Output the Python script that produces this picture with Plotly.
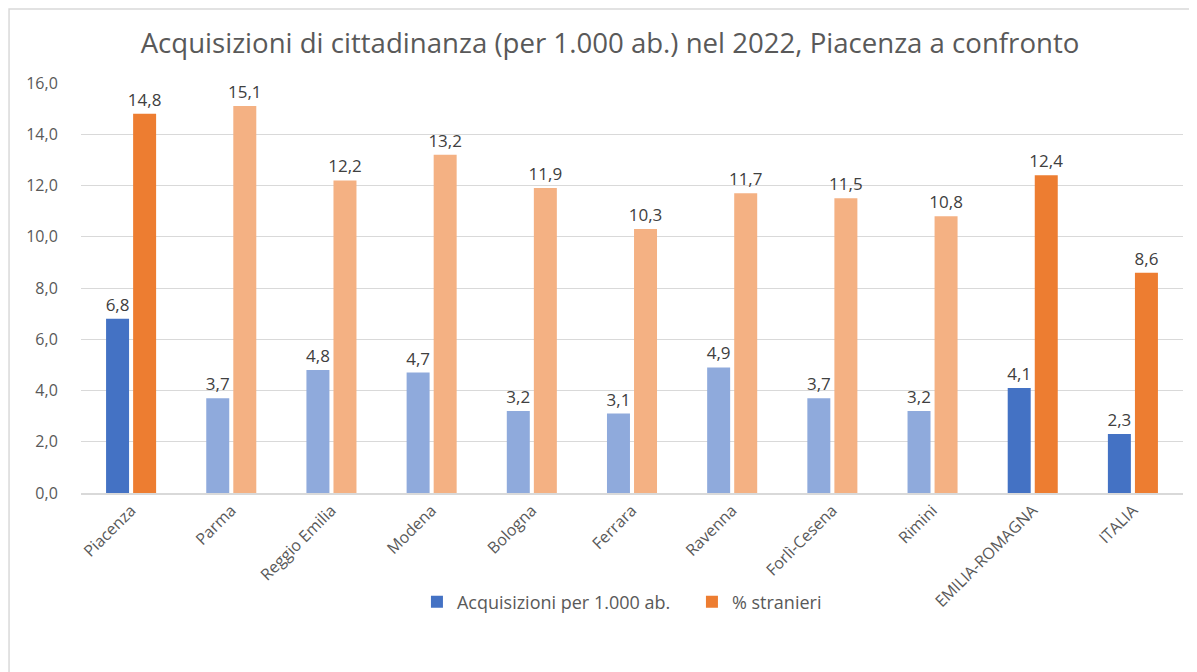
import plotly.graph_objects as go

categories = ["Piacenza", "Parma", "Reggio Emilia", "Modena", "Bologna", "Ferrara",
              "Ravenna", "Forlì-Cesena", "Rimini", "EMILIA-ROMAGNA", "ITALIA"]
acquisizioni = [6.8, 3.7, 4.8, 4.7, 3.2, 3.1, 4.9, 3.7, 3.2, 4.1, 2.3]
stranieri = [14.8, 15.1, 12.2, 13.2, 11.9, 10.3, 11.7, 11.5, 10.8, 12.4, 8.6]
highlight = [True, False, False, False, False, False, False, False, False, True, True]
y_ticks = [0, 2, 4, 6, 8, 10, 12, 14, 16]

blue_dark, blue_light = "#4472C4", "#8FAADC"
orange_dark, orange_light = "#ED7D31", "#F4B183"

FONT = "'Open Sans', sans-serif"
GREY = "#595959"

fig = go.Figure()
fig.add_trace(go.Bar(
    name="Acquisizioni per 1.000 ab.", x=categories, y=acquisizioni,
    marker=dict(color=[blue_dark if h else blue_light for h in highlight], line=dict(width=0)),
    texttemplate="%{y:.1f}", textposition="outside", cliponaxis=False, constraintext="none",
    textfont=dict(size=17, color="#404040", family=FONT),
))
fig.add_trace(go.Bar(
    name="% stranieri", x=categories, y=stranieri,
    marker=dict(color=[orange_dark if h else orange_light for h in highlight], line=dict(width=0)),
    texttemplate="%{y:.1f}", textposition="outside", cliponaxis=False, constraintext="none",
    textfont=dict(size=17, color="#404040", family=FONT),
))

fig.update_layout(
    width=1189, height=664,
    paper_bgcolor="white", plot_bgcolor="white",
    separators=",.",
    barmode="group", bargap=0.46, bargroupgap=0.15,
    margin=dict(l=73, r=14, t=75, b=179, autoexpand=False),
    font=dict(family=FONT, color=GREY, size=15),
    title=dict(text="Acquisizioni di cittadinanza (per 1.000 ab.) nel 2022, Piacenza a confronto",
               x=(610 - 8) / 1189, xanchor="center", y=1 - 35 / 664, yanchor="middle",
               font=dict(size=27.6, color=GREY, family=FONT)),
    xaxis=dict(tickangle=-45, showgrid=False, showline=True, linecolor="#D9D9D9", linewidth=1.5,
               ticks="", tickfont=dict(size=16, color=GREY), automargin=False),
    yaxis=dict(range=[0, 16], tickvals=y_ticks, tickformat=".1f", showgrid=True,
               gridcolor="#D9D9D9", gridwidth=1, zeroline=False, showline=False,
               ticks="outside", ticklen=19, tickcolor="white",
               tickfont=dict(size=16, color=GREY), automargin=False),
    legend=dict(orientation="h", x=0.5544, xanchor="center", y=-0.266, yanchor="middle",
                font=dict(size=18, color=GREY), itemwidth=30, traceorder="normal",
                entrywidth=230, entrywidthmode="pixels", bgcolor="rgba(0,0,0,0)"),
    showlegend=True,
)

fig.add_shape(type="rect", xref="paper", yref="paper",
              x0=-0.0653, x1=1.0064, y0=-0.46, y1=1.1805,
              line=dict(color="#D9D9D9", width=1.5), fillcolor="rgba(0,0,0,0)", layer="below")

fig.write_html("out.html")
